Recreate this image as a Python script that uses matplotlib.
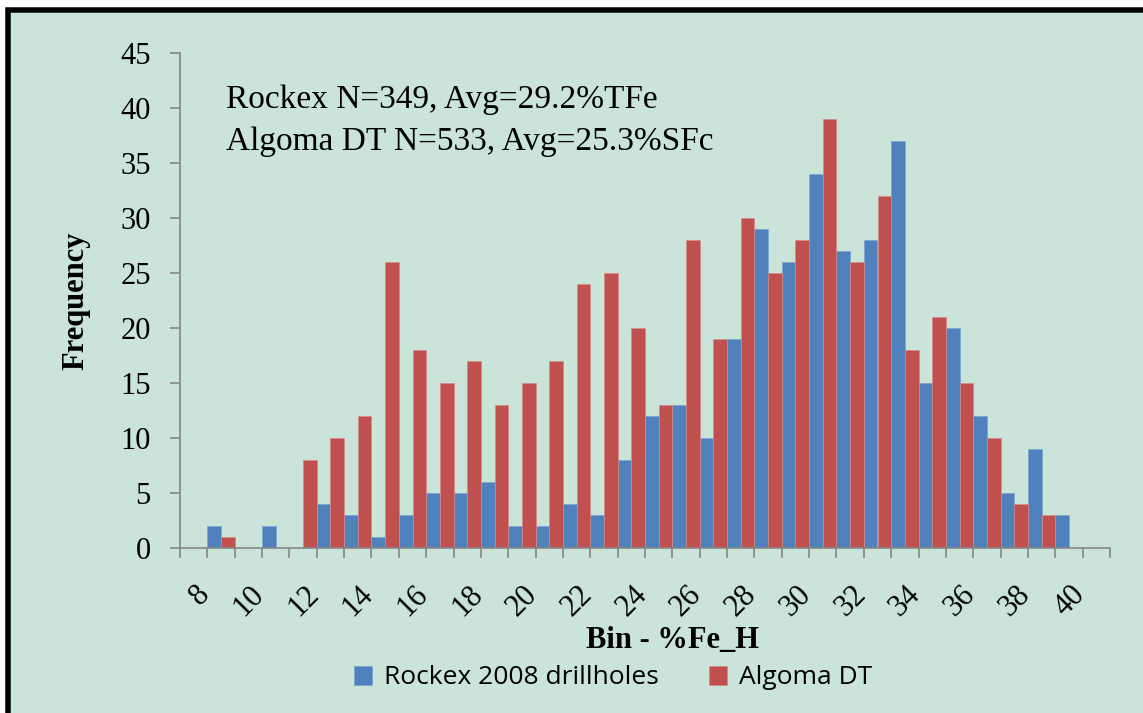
import matplotlib
matplotlib.use("Agg")
import matplotlib.pyplot as plt
from matplotlib.patches import Rectangle
from matplotlib.transforms import ScaledTranslation
import numpy as np

# ---- data ----
bins = list(range(8, 42))  # 8 .. 41
rockex = [0, 2, 0, 2, 0, 4, 3, 1, 3, 5, 5, 6, 2, 2, 4, 3, 8, 12, 13, 10,
          19, 29, 26, 34, 27, 28, 37, 15, 20, 12, 5, 9, 3, 0]
algoma = [0, 1, 0, 0, 8, 10, 12, 26, 18, 15, 17, 13, 15, 17, 24, 25, 20, 13, 28, 19,
          30, 25, 28, 39, 26, 32, 18, 21, 15, 10, 4, 3, 0, 0]
tick_labels = [str(b) if b % 2 == 0 and b <= 40 else "" for b in bins]
series_names = ["Rockex 2008 drillholes", "Algoma DT"]
note_lines = ["Rockex N=349, Avg=29.2%TFe", "Algoma DT N=533, Avg=25.3%SFc"]
yticks = [0, 5, 10, 15, 20, 25, 30, 35, 40, 45]

BG = "#CAE4DA"
BLUE = "#4F81BD"
RED = "#C0504D"
AXC = "#868686"
SERIF = ["Liberation Serif", "DejaVu Serif"]
SANS = ["Open Sans", "DejaVu Sans"]

W, H = 1143, 713
fig = plt.figure(figsize=(W / 100, H / 100), dpi=100)
fig.patch.set_facecolor("white")

# background panel with black frame (top and left visible)
lw_px = 5.5
top = 1 - 9.5 / H
fig.patches.append(Rectangle((8 / W, -0.1), 1.2, top + 0.1,
                             transform=fig.transFigure, facecolor=BG,
                             edgecolor="black", linewidth=lw_px * 72 / 100,
                             zorder=-10))

x0, x1 = 180 / W, 1110 / W
yb, yt = 1 - 548 / H, 1 - 53 / H
ax = fig.add_axes([x0, yb, x1 - x0, yt - yb])
ax.set_facecolor("none")
ax.set_zorder(1)

x = np.arange(len(bins))
bw = 0.5
ax.bar(x - bw / 2, rockex, width=bw, color=BLUE, edgecolor="#7FA3CE",
       linewidth=0.5, label=series_names[0], zorder=2)
ax.bar(x + bw / 2, algoma, width=bw, color=RED, edgecolor="#D48A88",
       linewidth=0.5, label=series_names[1], zorder=2)

ax.set_xlim(-0.5, len(bins) - 0.5)
ax.set_ylim(0, 45)

for s in ["top", "right"]:
    ax.spines[s].set_visible(False)
for s in ["left", "bottom"]:
    ax.spines[s].set_color(AXC)
    ax.spines[s].set_linewidth(1.2)

ax.set_yticks(yticks)
ax.set_yticklabels([str(v) for v in yticks], fontfamily=SERIF, fontsize=22)
ax.tick_params(axis="y", colors=AXC, labelcolor="black", length=7, width=1.2, pad=14)

# major x ticks at category boundaries
ax.set_xticks(np.arange(-0.5, len(bins), 1.0))
ax.set_xticklabels([])
ax.tick_params(axis="x", which="major", colors=AXC, length=7, width=1.2)
# minor ticks carry the labels
ax.set_xticks(x, minor=True)
ax.set_xticklabels(tick_labels, minor=True, fontfamily=SERIF, fontsize=22,
                   rotation=45, ha="right", va="top", rotation_mode="anchor")
ax.tick_params(axis="x", which="minor", length=0, pad=23, labelcolor="black")
for lab in ax.get_xticklabels(minor=True):
    lab.set_transform(lab.get_transform() + ScaledTranslation(0.01, 0, fig.dpi_scale_trans))

ax.set_ylabel("Frequency", fontfamily=SERIF, fontsize=22, fontweight="bold")
ax.yaxis.set_label_coords(-90 / 930, 0.5)
fig.text(673 / W, 1 - 641 / H, "Bin - %Fe_H", fontfamily=SERIF, fontsize=22,
         fontweight="bold", ha="center", va="center")

fig.text(226 / W, 1 - 108 / H, note_lines[0], fontfamily=SERIF, fontsize=24,
         ha="left", va="baseline")
fig.text(226 / W, 1 - 150 / H, note_lines[1], fontfamily=SERIF, fontsize=24,
         ha="left", va="baseline")

leg = fig.legend(loc="center", bbox_to_anchor=(613 / W, 1 - 678 / H), ncol=2,
                 frameon=False, prop={"family": SANS, "size": 19},
                 handlelength=0.7, handleheight=0.7, handletextpad=0.45,
                 columnspacing=1.9)

fig.savefig("out.png", dpi=100)
